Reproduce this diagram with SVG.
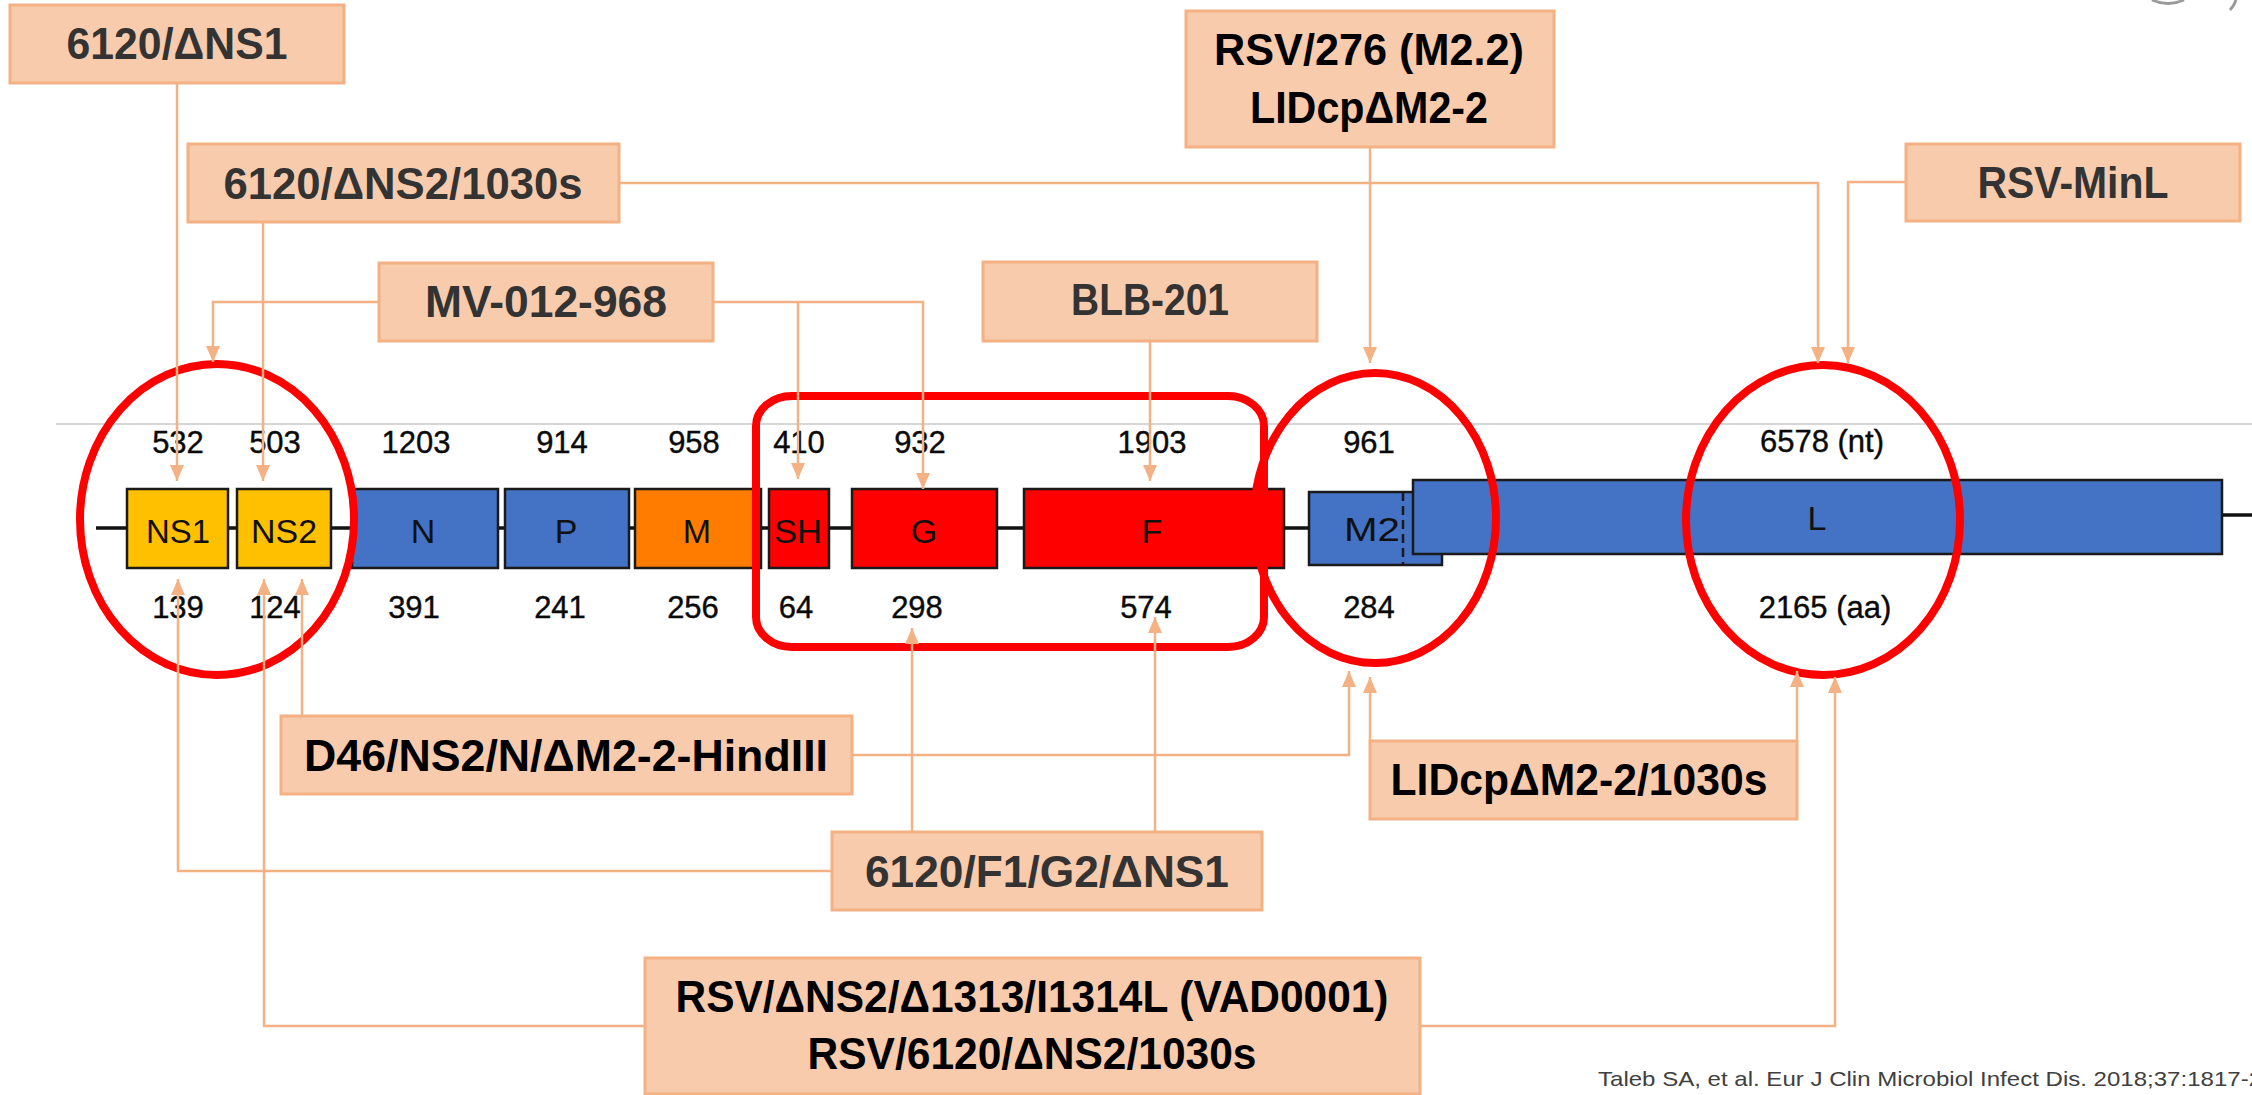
<svg xmlns="http://www.w3.org/2000/svg" width="2252" height="1095" viewBox="0 0 2252 1095">
<style>
.lbl{fill:#F8CBAD;stroke:#F4B183;stroke-width:3}
.lt{font-family:"Liberation Sans",Arial,sans-serif;font-weight:bold;font-size:44px;text-anchor:middle}
.g{fill:#333333}
.k{fill:#000000}
.gene{stroke:#1a1a1a;stroke-width:2.5}
.gt{font-family:"Liberation Sans",Arial,sans-serif;font-size:34px;text-anchor:middle;fill:#111}
.num{font-family:"Liberation Sans",Arial,sans-serif;font-size:31px;text-anchor:middle;fill:#0a0a0a;stroke:#0a0a0a;stroke-width:0.4}
.con{fill:none;stroke:#F4B183;stroke-width:2.5}
.arw{marker-end:url(#arr)}
.hl{fill:none;stroke:#FF0000;stroke-width:8}
</style>
<defs>
<marker id="arr" viewBox="0 0 16 14" refX="16" refY="7" markerWidth="16" markerHeight="14" markerUnits="userSpaceOnUse" orient="auto">
<path d="M0,0 L16,7 L0,14 z" fill="#F4B183"/>
</marker>
</defs>
<rect x="0" y="0" width="2252" height="1095" fill="#ffffff"/>
<path d="M2152,0 Q2168,7 2184,0" fill="none" stroke="#9a9a9a" stroke-width="3"/>
<path d="M2236,0 Q2234,6 2230,10" fill="none" stroke="#9a9a9a" stroke-width="3"/>
<line x1="56" y1="424" x2="2252" y2="424" stroke="#d6d6d6" stroke-width="2"/>

<g id="genome">
<line x1="96" y1="528" x2="1413" y2="528" stroke="#111" stroke-width="3.5"/>
<line x1="2222" y1="515" x2="2252" y2="515" stroke="#111" stroke-width="3.5"/>
<g id="gene-NS1"><rect class="gene" x="127" y="489" width="101" height="79" fill="#FFC000"/><text class="gt" x="178" y="543" textLength="64" lengthAdjust="spacingAndGlyphs">NS1</text></g>
<g id="gene-NS2"><rect class="gene" x="237" y="489" width="94" height="79" fill="#FFC000"/><text class="gt" x="284" y="543" textLength="66" lengthAdjust="spacingAndGlyphs">NS2</text></g>
<g id="gene-N"><rect class="gene" x="352" y="489" width="146" height="79" fill="#4472C4"/><text class="gt" x="423" y="543">N</text></g>
<g id="gene-P"><rect class="gene" x="505" y="489" width="124" height="79" fill="#4472C4"/><text class="gt" x="566" y="543">P</text></g>
<g id="gene-M"><rect class="gene" x="635" y="489" width="126" height="79" fill="#FF7C00"/><text class="gt" x="697" y="543">M</text></g>
<g id="gene-SH"><rect class="gene" x="769" y="489" width="60" height="79" fill="#FF0000"/><text class="gt" x="798" y="543" textLength="48" lengthAdjust="spacingAndGlyphs">SH</text></g>
<g id="gene-G"><rect class="gene" x="852" y="489" width="145" height="79" fill="#FF0000"/><text class="gt" x="924" y="543">G</text></g>
<g id="gene-F"><rect class="gene" x="1024" y="489" width="260" height="79" fill="#FF0000"/><text class="gt" x="1152" y="543">F</text></g>
<g id="gene-M2"><rect class="gene" x="1309" y="492" width="133" height="73" fill="#4472C4"/><line x1="1403" y1="492" x2="1403" y2="565" stroke="#1a1a1a" stroke-width="2.5" stroke-dasharray="9,5"/><text class="gt" x="1372" y="541" textLength="56" lengthAdjust="spacingAndGlyphs">M2</text></g>
<g id="gene-L"><rect class="gene" x="1413" y="480" width="809" height="74" fill="#4472C4"/><text class="gt" x="1817" y="530">L</text></g>

<g id="nt">
<text class="num" x="178" y="453">532</text>
<text class="num" x="275" y="453">503</text>
<text class="num" x="416" y="453">1203</text>
<text class="num" x="562" y="453">914</text>
<text class="num" x="694" y="453">958</text>
<text class="num" x="799" y="453">410</text>
<text class="num" x="920" y="453">932</text>
<text class="num" x="1152" y="453">1903</text>
<text class="num" x="1369" y="453">961</text>
<text class="num" x="1822" y="452">6578 (nt)</text>
</g>
<g id="aa">
<text class="num" x="178" y="618">139</text>
<text class="num" x="275" y="618">124</text>
<text class="num" x="414" y="618">391</text>
<text class="num" x="560" y="618">241</text>
<text class="num" x="693" y="618">256</text>
<text class="num" x="796" y="618">64</text>
<text class="num" x="917" y="618">298</text>
<text class="num" x="1146" y="618">574</text>
<text class="num" x="1369" y="618">284</text>
<text class="num" x="1825" y="618">2165 (aa)</text>
</g>
</g>

<g id="highlights">
<ellipse class="hl" cx="217" cy="519.5" rx="137" ry="155.5"/>
<rect class="hl" x="756" y="396" width="508" height="251" rx="36" ry="30"/>
<ellipse class="hl" cx="1375" cy="518" rx="121" ry="145"/>
<ellipse class="hl" cx="1823" cy="520" rx="137" ry="155"/>
</g>

<g id="connectors">
<path class="con arw" d="M177,83 V481"/>
<path class="con arw" d="M263,222 V481"/>
<path class="con arw" d="M619,183 H1818 V363"/>
<path class="con arw" d="M379,302 H213 V362"/>
<path class="con arw" d="M713,302 H923 V489"/>
<path class="con arw" d="M798,302 V479"/>
<path class="con arw" d="M1370,147 V363"/>
<path class="con arw" d="M1150,341 V481"/>
<path class="con arw" d="M1906,182 H1848 V363"/>
<path class="con arw" d="M832,871 H178 V579"/>
<path class="con arw" d="M912,832 V628"/>
<path class="con arw" d="M1155,832 V617"/>
<path class="con arw" d="M302,716 V579"/>
<path class="con arw" d="M852,755 H1349 V671"/>
<path class="con arw" d="M645,1026 H264 V579"/>
<path class="con arw" d="M1420,1026 H1835 V677"/>
<path class="con arw" d="M1370,741 V677"/>
<path class="con arw" d="M1797,741 V671"/>
</g>

<g id="n-6120-dNS1"><rect class="lbl" x="10" y="5" width="334" height="78"/><text class="lt g" x="177" y="59" textLength="221" lengthAdjust="spacingAndGlyphs">6120/ΔNS1</text></g>
<g id="n-6120-dNS2-1030s"><rect class="lbl" x="188" y="144" width="431" height="78"/><text class="lt g" x="403" y="199" textLength="359" lengthAdjust="spacingAndGlyphs">6120/ΔNS2/1030s</text></g>
<g id="n-MV-012-968"><rect class="lbl" x="379" y="263" width="334" height="78"/><text class="lt g" x="546" y="317" textLength="242" lengthAdjust="spacingAndGlyphs">MV-012-968</text></g>
<g id="n-RSV276"><rect class="lbl" x="1186" y="11" width="368" height="136"/><text class="lt k" x="1369" y="65" textLength="310" lengthAdjust="spacingAndGlyphs">RSV/276 (M2.2)</text><text class="lt k" x="1369" y="123" textLength="238" lengthAdjust="spacingAndGlyphs">LIDcpΔM2-2</text></g>
<g id="n-BLB-201"><rect class="lbl" x="983" y="262" width="334" height="79"/><text class="lt g" x="1150" y="315" textLength="158" lengthAdjust="spacingAndGlyphs">BLB-201</text></g>
<g id="n-RSV-MinL"><rect class="lbl" x="1906" y="144" width="334" height="77"/><text class="lt g" x="2073" y="198" textLength="191" lengthAdjust="spacingAndGlyphs">RSV-MinL</text></g>
<g id="n-D46"><rect class="lbl" x="281" y="716" width="571" height="78"/><text class="lt k" x="566" y="771" textLength="524" lengthAdjust="spacingAndGlyphs">D46/NS2/N/ΔM2-2-HindIII</text></g>
<g id="n-LIDcp-1030s"><rect class="lbl" x="1370" y="741" width="427" height="78"/><text class="lt k" x="1579" y="795" textLength="377" lengthAdjust="spacingAndGlyphs">LIDcpΔM2-2/1030s</text></g>
<g id="n-6120-F1-G2"><rect class="lbl" x="832" y="832" width="430" height="78"/><text class="lt g" x="1047" y="887" textLength="364" lengthAdjust="spacingAndGlyphs">6120/F1/G2/ΔNS1</text></g>
<g id="n-VAD0001"><rect class="lbl" x="645" y="958" width="775" height="136"/><text class="lt k" x="1032" y="1012" textLength="713" lengthAdjust="spacingAndGlyphs">RSV/ΔNS2/Δ1313/I1314L (VAD0001)</text><text class="lt k" x="1032" y="1069" textLength="449" lengthAdjust="spacingAndGlyphs">RSV/6120/ΔNS2/1030s</text></g>

<text x="1598" y="1086" font-family="'Liberation Sans',Arial,sans-serif" font-size="21" fill="#404040" textLength="664" lengthAdjust="spacingAndGlyphs">Taleb SA, et al. Eur J Clin Microbiol Infect Dis. 2018;37:1817-2</text>
</svg>
